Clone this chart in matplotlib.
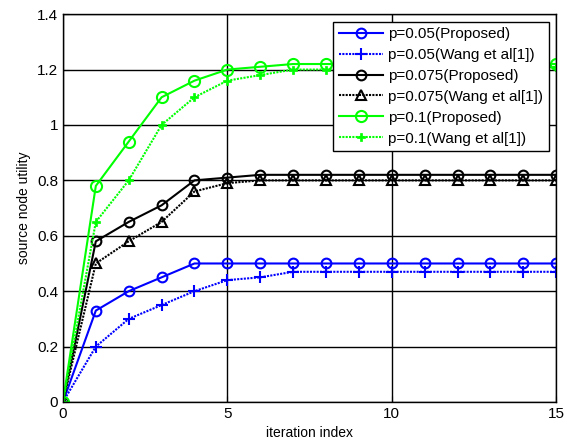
import numpy as np
import matplotlib
matplotlib.use("Agg")
import matplotlib.pyplot as plt

plt.rcParams['font.family'] = ['Liberation Sans', 'DejaVu Sans']

iters = np.arange(0, 16)

blue_prop = [0, 0.33, 0.40, 0.45, 0.50, 0.50, 0.50, 0.50, 0.50, 0.50, 0.50, 0.50, 0.50, 0.50, 0.50, 0.50]
blue_wang = [0, 0.20, 0.30, 0.35, 0.40, 0.44, 0.45, 0.47, 0.47, 0.47, 0.47, 0.47, 0.47, 0.47, 0.47, 0.47]
black_prop = [0, 0.58, 0.65, 0.71, 0.80, 0.81, 0.82, 0.82, 0.82, 0.82, 0.82, 0.82, 0.82, 0.82, 0.82, 0.82]
black_wang = [0, 0.50, 0.58, 0.65, 0.76, 0.79, 0.80, 0.80, 0.80, 0.80, 0.80, 0.80, 0.80, 0.80, 0.80, 0.80]
green_prop = [0, 0.78, 0.94, 1.10, 1.16, 1.20, 1.21, 1.22, 1.22, 1.22, 1.22, 1.22, 1.22, 1.22, 1.22, 1.22]
green_wang = [0, 0.65, 0.80, 1.00, 1.10, 1.16, 1.18, 1.20, 1.20, 1.20, 1.20, 1.20, 1.20, 1.20, 1.20, 1.21]

labels = ['p=0.05(Proposed)', 'p=0.05(Wang et al[1])',
          'p=0.075(Proposed)', 'p=0.075(Wang et al[1])',
          'p=0.1(Proposed)', 'p=0.1(Wang et al[1])']

blue = '#0000ff'
green = '#00ff00'
dots = (0, (1, 0.6))

fig = plt.figure(figsize=(5.67, 4.42), dpi=100)
ax = fig.add_axes([0.111, 0.0905, 0.870, 0.8775])

ax.plot(iters, blue_prop, '-', color=blue, marker='o', mfc='none', ms=7, mew=1.5, lw=1.5, label=labels[0])
ax.plot(iters, blue_wang, linestyle=dots, color=blue, marker='+', ms=8, mew=1.5, lw=1.5, label=labels[1])
ax.plot(iters, black_prop, '-', color='k', marker='o', mfc='none', ms=7, mew=1.5, lw=1.5, label=labels[2])
ax.plot(iters, black_wang, linestyle=dots, color='k', marker='^', mfc='none', ms=7, mew=1.5, lw=1.5, label=labels[3])
ax.plot(iters, green_prop, '-', color=green, marker='o', mfc='none', ms=8, mew=1.5, lw=1.5, label=labels[4])
ax.plot(iters, green_wang, linestyle=dots, color=green, marker='P', ms=6, mew=0.5, lw=1.5, label=labels[5])

ax.set_xlim(0, 15)
ax.set_ylim(0, 1.4)
ax.set_xticks([0, 5, 10, 15])
ax.set_yticks(np.arange(0, 1.41, 0.2))
ax.set_yticklabels(['0', '0.2', '0.4', '0.6', '0.8', '1', '1.2', '1.4'])
ax.grid(True, color='k', linestyle='-', linewidth=1.0)
ax.tick_params(direction='in', labelsize=11, length=4)
for s in ax.spines.values():
    s.set_linewidth(1.0)
ax.set_xlabel('iteration index', fontsize=10, labelpad=4)
ax.set_ylabel('source node utility', fontsize=10, labelpad=4)

leg = ax.legend(loc='upper right', fontsize=11, fancybox=False, framealpha=1,
                edgecolor='k', borderaxespad=0.5, handlelength=2.9,
                labelspacing=0.45, borderpad=0.35, handletextpad=0.35)
leg.get_frame().set_linewidth(1.0)

fig.savefig('out.png', dpi=100)
